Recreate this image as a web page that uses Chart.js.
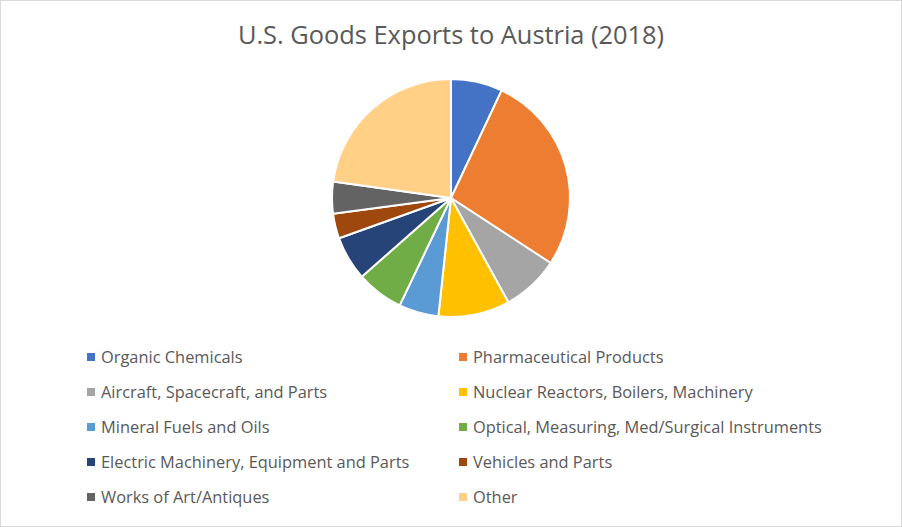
<!DOCTYPE html>
<html lang="en">
<head>
    <meta charset="UTF-8">
    <title>U.S. Goods Exports to Austria (2018)</title>
    <script src="https://cdn.jsdelivr.net/npm/chart.js"></script>
    <style>
        body {
            margin: 0;
            background: #fff;
            font-family: "Open Sans", "Noto Sans", Arial, sans-serif;
        }

        .frame {
            position: relative;
            width: 900px;
            height: 525px;
            border: 1px solid #d9d9d9;
            background: #fff;
        }

        .title {
            position: absolute;
            left: 0;
            width: 900px;
            top: 16px;
            text-align: center;
            font-size: 25.4px;
            color: #595959;
        }

        #pie-container {
            position: absolute;
            left: 0;
            top: 77px;
            width: 900px;
            height: 240px;
        }

        #legend {
            position: absolute;
            left: 86px;
            top: 344px;
            display: grid;
            grid-template-columns: 372px 372px;
            row-gap: 12px;
        }

        .legend-item {
            display: flex;
            align-items: center;
            height: 23px;
            font-size: 16.4px;
            color: #595959;
        }

        .color-box {
            width: 8px;
            height: 8px;
            margin-right: 6px;
        }
    </style>
</head>

<body>
    <div class="frame">
        <div class="title">U.S. Goods Exports to Austria (2018)</div>
        <div id="pie-container">
            <canvas id="pieChart"></canvas>
        </div>
        <div id="legend"></div>
    </div>

    <script>
        // Categories and shares (% of total)
        const categories = [
            'Organic Chemicals',
            'Pharmaceutical Products',
            'Aircraft, Spacecraft, and Parts',
            'Nuclear Reactors, Boilers, Machinery',
            'Mineral Fuels and Oils',
            'Optical, Measuring, Med/Surgical Instruments',
            'Electric Machinery, Equipment and Parts',
            'Vehicles and Parts',
            'Works of Art/Antiques',
            'Other'
        ];
        const shares = [7.0, 27.2, 7.8, 9.7, 5.4, 6.4, 6.0, 3.4, 4.3, 22.8];
        const colors = ['#4472C4', '#ED7D31', '#A5A5A5', '#FFC000', '#5B9BD5',
                        '#70AD47', '#264478', '#9E480E', '#636363', '#FFD086'];

        // legend built from the same arrays
        const legendEl = document.getElementById('legend');
        categories.forEach((label, i) => {
            const item = document.createElement('div');
            item.className = 'legend-item';
            item.innerHTML = `<div class="color-box" style="background-color: ${colors[i]};"></div><span>${label}</span>`;
            legendEl.appendChild(item);
        });

        const ctx = document.getElementById('pieChart').getContext('2d');
        new Chart(ctx, {
            type: 'pie',
            data: {
                labels: categories,
                datasets: [{
                    data: shares,
                    backgroundColor: colors,
                    borderColor: '#ffffff',
                    borderWidth: 2
                }]
            },
            options: {
                responsive: true,
                maintainAspectRatio: false,
                animation: false,
                layout: { padding: 0 },
                plugins: {
                    legend: { display: false },
                    tooltip: { enabled: false }
                }
            }
        });
    </script>
</body>
</html>
